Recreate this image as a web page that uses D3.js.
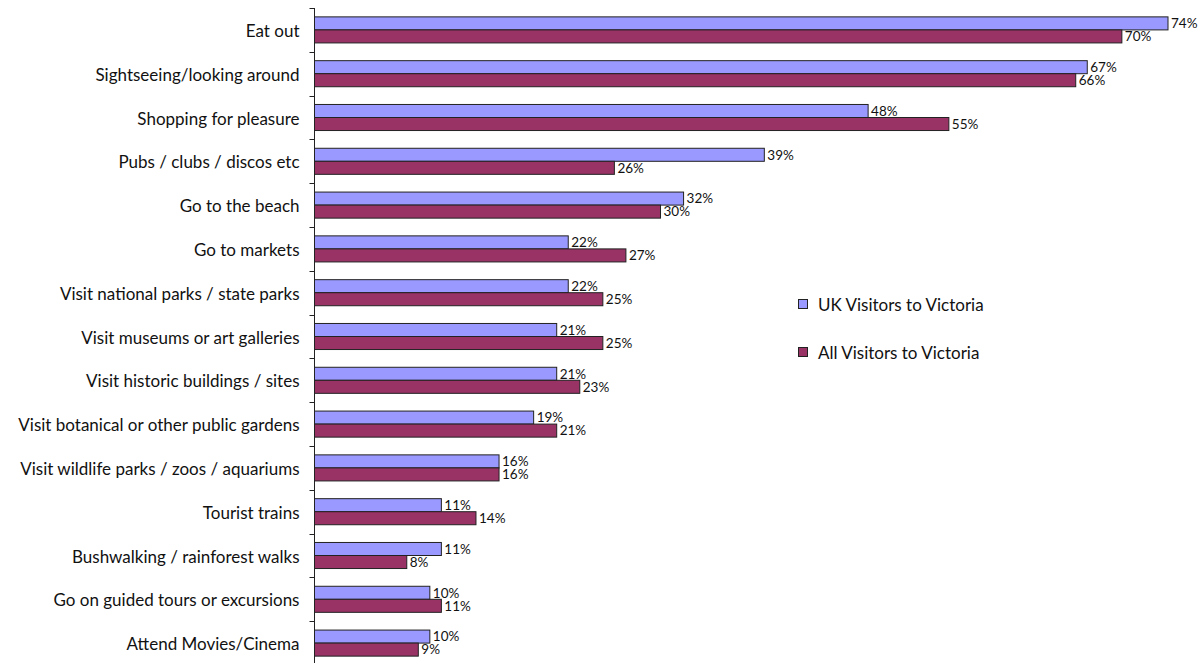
<!DOCTYPE html>
<html>
<head>
<meta charset="utf-8">
<script src="https://cdn.jsdelivr.net/npm/d3@7"></script>
<style>
  html, body { margin: 0; padding: 0; background: #fff; }
  svg { display: block; }
</style>
</head>
<body>
<svg id="chart" width="1202" height="663"></svg>
<script>
// Activities undertaken, share of visitors (%)
const categories = [
  "Eat out",
  "Sightseeing/looking around",
  "Shopping for pleasure",
  "Pubs / clubs / discos etc",
  "Go to the beach",
  "Go to markets",
  "Visit national parks / state parks",
  "Visit museums or art galleries",
  "Visit historic buildings / sites",
  "Visit botanical or other public gardens",
  "Visit wildlife parks / zoos / aquariums",
  "Tourist trains",
  "Bushwalking / rainforest walks",
  "Go on guided tours or excursions",
  "Attend Movies/Cinema"
];
const ukVisitors  = [74, 67, 48, 39, 32, 22, 22, 21, 21, 19, 16, 11, 11, 10, 10];
const allVisitors = [70, 66, 55, 26, 30, 27, 25, 25, 23, 21, 16, 14, 8, 11, 9];
const seriesNames = ["UK Visitors to Victoria", "All Visitors to Victoria"];
const seriesColors = ["#9999FF", "#993366"];

const svg = d3.select("#chart");
const font = "Lato, 'Open Sans', sans-serif";

const axisX = 314.5;
const plotTop = 8;
const band = 43.8;

const x = d3.scaleLinear().domain([0, 74]).range([axisX, 1168]);
const y = d3.scaleBand()
  .domain(categories)
  .range([plotTop, plotTop + band * categories.length])
  .paddingInner(0.405)
  .paddingOuter(0.2025);
const sub = d3.scaleBand().domain([0, 1]).range([0, y.bandwidth()]);

const rows = categories.map((c, i) => ({ c, vals: [ukVisitors[i], allVisitors[i]] }));

const g = svg.append("g");
const row = g.selectAll("g.row").data(rows).join("g")
  .attr("class", "row")
  .attr("transform", d => `translate(0,${y(d.c)})`);

row.selectAll("rect").data(d => d.vals).join("rect")
  .attr("x", axisX)
  .attr("y", (v, j) => sub(j))
  .attr("width", v => x(v) - axisX)
  .attr("height", sub.bandwidth())
  .attr("fill", (v, j) => seriesColors[j])
  .attr("stroke", "#222")
  .attr("stroke-width", 1);

row.selectAll("text.val").data(d => d.vals).join("text")
  .attr("class", "val")
  .attr("x", v => x(v) + 3)
  .attr("y", (v, j) => sub(j) + sub.bandwidth() / 2)
  .attr("dy", "0.36em")
  .attr("font-family", font)
  .attr("font-size", 13.5)
  .attr("fill", "#111")
  .text(v => v + "%");

// Category axis with ticks between bands
const axisG = svg.append("g");
axisG.append("line")
  .attr("x1", axisX).attr("x2", axisX)
  .attr("y1", plotTop).attr("y2", 663)
  .attr("stroke", "#222").attr("stroke-width", 1);
d3.range(categories.length + 1).forEach(i => {
  const ty = Math.round(plotTop + band * i) + 0.5;
  axisG.append("line")
    .attr("x1", axisX - 5).attr("x2", axisX)
    .attr("y1", ty).attr("y2", ty)
    .attr("stroke", "#222").attr("stroke-width", 1);
});
axisG.selectAll("text").data(categories).join("text")
  .attr("x", axisX - 15)
  .attr("y", d => y(d) + y.bandwidth() / 2 + 1)
  .attr("dy", "0.36em")
  .attr("text-anchor", "end")
  .attr("font-family", font)
  .attr("font-size", 17)
  .attr("fill", "#111")
  .text(d => d);

// Legend
const legend = svg.append("g");
seriesNames.forEach((name, j) => {
  const ly = 305 + j * 48;
  legend.append("rect")
    .attr("x", 798.5).attr("y", ly - 5.5)
    .attr("width", 9).attr("height", 9)
    .attr("fill", seriesColors[j])
    .attr("stroke", "#222").attr("stroke-width", 1);
  legend.append("text")
    .attr("x", 818).attr("y", ly)
    .attr("dy", "0.36em")
    .attr("font-family", font)
    .attr("font-size", 17)
    .attr("fill", "#111")
    .text(name);
});
</script>
</body>
</html>
